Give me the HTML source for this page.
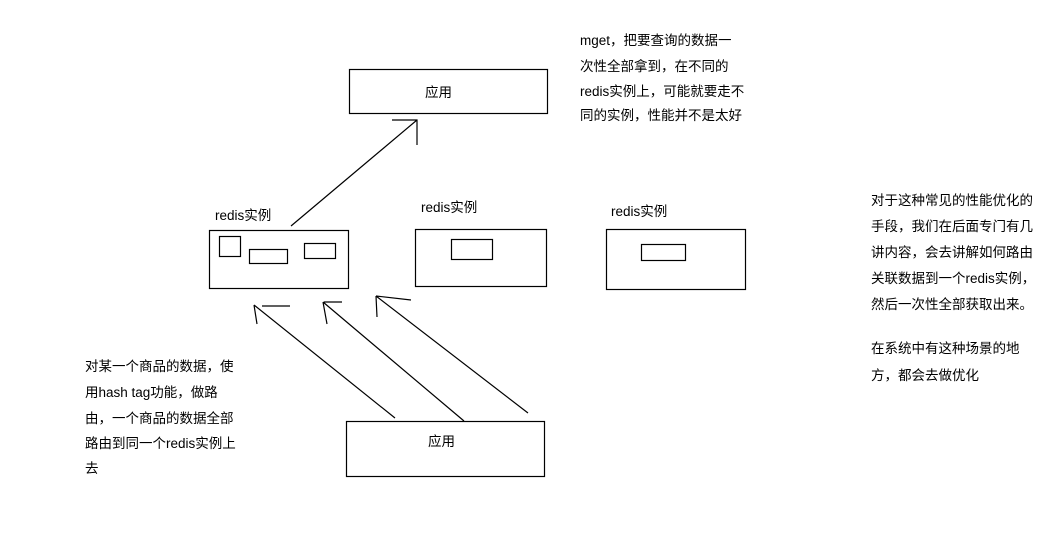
<!DOCTYPE html>
<html><head><meta charset="utf-8"><style>
html,body{margin:0;padding:0;background:#fff;}
svg{display:block}
text{font-family:"Liberation Sans","Noto Sans CJK SC",sans-serif;font-size:13.5px;fill:#000}
</style></head><body>
<svg width="1056" height="537" viewBox="0 0 1056 537" xmlns="http://www.w3.org/2000/svg">
<g fill="none" stroke="#000" stroke-width="1.2">
<rect x="349.5" y="69.5" width="198" height="44"/>
<rect x="209.5" y="230.5" width="139" height="58"/>
<rect x="219.5" y="236.5" width="21" height="20"/>
<rect x="249.5" y="249.5" width="38" height="14"/>
<rect x="304.5" y="243.5" width="31" height="15"/>
<rect x="415.5" y="229.5" width="131" height="57"/>
<rect x="451.5" y="239.5" width="41" height="20"/>
<rect x="606.5" y="229.5" width="139" height="60"/>
<rect x="641.5" y="244.5" width="44" height="16"/>
<rect x="346.5" y="421.5" width="198" height="55"/>
<path d="M291 226 L417 120 M392 120 L417 120 L417 145"/>
<path d="M395 418 L254 305 M254 305 L257 324 M262 306 L290 306"/>
<path d="M464 421 L323 302 M323 302 L327 324 M324 302 L342 302"/>
<path d="M528 413 L376 296 M376 296 L377 317 M376 296 L411 300"/>
</g>
<text x="425" y="97">应用</text>
<text x="428" y="446">应用</text>
<text x="215" y="220">redis实例</text>
<text x="421" y="212">redis实例</text>
<text x="611" y="216">redis实例</text>
<text x="580" y="45">mget，把要查询的数据一</text>
<text x="580" y="71">次性全部拿到，在不同的</text>
<text x="580" y="96">redis实例上，可能就要走不</text>
<text x="580" y="120">同的实例，性能并不是太好</text>
<text x="85" y="371">对某一个商品的数据，使</text>
<text x="85" y="397">用hash tag功能，做路</text>
<text x="85" y="423">由，一个商品的数据全部</text>
<text x="85" y="448">路由到同一个redis实例上</text>
<text x="85" y="473">去</text>
<text x="871" y="205">对于这种常见的性能优化的</text>
<text x="871" y="231">手段，我们在后面专门有几</text>
<text x="871" y="257">讲内容，会去讲解如何路由</text>
<text x="871" y="283">关联数据到一个redis实例，</text>
<text x="871" y="309">然后一次性全部获取出来。</text>
<text x="871" y="353">在系统中有这种场景的地</text>
<text x="871" y="380">方，都会去做优化</text>
</svg>
</body></html>
